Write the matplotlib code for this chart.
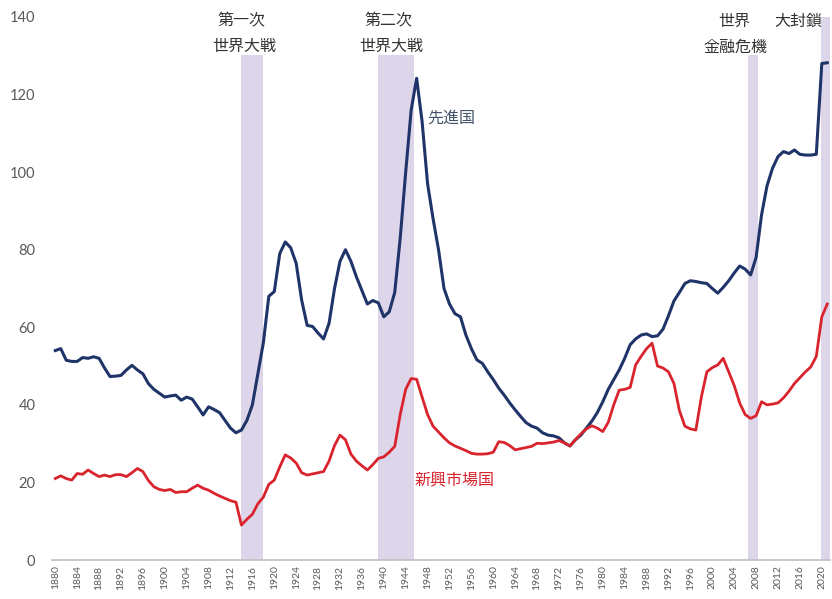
import matplotlib
matplotlib.use("Agg")
import matplotlib.pyplot as plt
import numpy as np

years = list(range(1880, 2022))

advanced = [
    54, 54.5, 51.5, 51.2, 51.2, 52.2, 52, 52.4, 52, 49.5,          # 1880-1889
    47.3, 47.4, 47.6, 49, 50.2, 49, 48, 45.5, 44, 43,               # 1890-1899
    42, 42.3, 42.5, 41.2, 42, 41.5, 39.5, 37.4, 39.5, 38.8,         # 1900-1909
    38, 36, 34, 32.8, 33.5, 36, 40, 48, 56, 68,                     # 1910-1919
    69.2, 79, 82, 80.5, 76.5, 67, 60.5, 60.2, 58.5, 57,             # 1920-1929
    61, 70, 77, 80, 77, 73, 69.5, 66, 66.9, 66.3,                   # 1930-1939
    62.7, 64, 69, 83, 100, 116, 124.2, 113, 97, 88,                 # 1940-1949
    80, 70, 66, 63.5, 62.7, 58, 54.5, 51.6, 50.7, 48.5,             # 1950-1959
    46.5, 44.3, 42.5, 40.5, 38.7, 37, 35.4, 34.5, 34, 32.8,         # 1960-1969
    32.2, 32, 31.5, 30.2, 29.4, 31, 32.2, 34, 35.8, 38,             # 1970-1979
    40.8, 44, 46.5, 49, 52, 55.5, 57, 58, 58.3, 57.6,               # 1980-1989
    57.8, 59.5, 63, 66.8, 69, 71.3, 72, 71.8, 71.5, 71.3,           # 1990-1999
    70, 68.8, 70.3, 72, 74, 75.8, 75, 73.5, 78, 89,                 # 2000-2009
    96.5, 101, 104, 105.3, 104.8, 105.7, 104.6, 104.4, 104.4, 104.6,  # 2010-2019
    128, 128.2,                                                     # 2020-2021
]

emerging = [
    21, 21.7, 21, 20.6, 22.3, 22.1, 23.2, 22.3, 21.5, 21.9,         # 1880-1889
    21.5, 22, 22, 21.5, 22.5, 23.6, 22.8, 20.5, 18.9, 18.2,         # 1890-1899
    17.9, 18.2, 17.4, 17.6, 17.6, 18.5, 19.3, 18.5, 18, 17.2,       # 1900-1909
    16.5, 15.9, 15.3, 14.9, 9, 10.5, 11.8, 14.5, 16.2, 19.5,        # 1910-1919
    20.6, 24, 27.1, 26.3, 25, 22.5, 21.9, 22.2, 22.5, 22.8,         # 1920-1929
    25.5, 29.5, 32.2, 31, 27.3, 25.5, 24.3, 23.2, 24.6, 26.2,       # 1930-1939
    26.6, 27.8, 29.3, 37.5, 44, 46.8, 46.6, 42, 37.5, 34.5,         # 1940-1949
    33, 31.5, 30.2, 29.4, 28.8, 28.2, 27.5, 27.3, 27.3, 27.4,       # 1950-1959
    27.8, 30.5, 30.3, 29.5, 28.4, 28.7, 29, 29.3, 30.1, 30,         # 1960-1969
    30.2, 30.4, 30.8, 30.2, 29.4, 31, 32.5, 33.8, 34.6, 34,         # 1970-1979
    33.1, 35.5, 40, 43.8, 44, 44.5, 50.3, 52.5, 54.5, 55.9,         # 1980-1989
    50, 49.5, 48.5, 45.5, 38.5, 34.5, 33.8, 33.5, 42, 48.5,         # 1990-1999
    49.6, 50.3, 52, 48.5, 45, 40.5, 37.5, 36.5, 37.2, 40.8,         # 2000-2009
    40, 40.2, 40.5, 41.8, 43.5, 45.5, 47, 48.5, 49.8, 52.5,         # 2010-2019
    62.7, 66,                                                       # 2020-2021
]

# shaded periods (start, end, label lines)
periods = [
    (1914, 1918, ["第一次", "世界大戦"]),
    (1939, 1945.6, ["第二次", "世界大戦"]),
    (2006.5, 2008.3, ["世界", "金融危機"]),
    (2019.8, 2021.5, ["大封鎖"]),
]

xticks = list(range(1880, 2021, 4))
yticks = list(range(0, 141, 20))

cjk = ["Noto Sans CJK JP", "DejaVu Sans"]

fig = plt.figure(figsize=(8.32, 5.99), dpi=100)
ax = fig.add_axes([52 / 832, 39 / 599, 778 / 832, 543 / 599])

band_color = "#ddd5ea"
band_tops = [0.93, 0.93, 0.93, 1.0]
for (s, e, _), top in zip(periods, band_tops):
    ax.axvspan(s, e, ymin=0, ymax=top, color=band_color, lw=0, zorder=0)

ax.plot(years, advanced, color="#1f3468", lw=2.2, zorder=3)
ax.plot(years, emerging, color="#d9232d", lw=2.0, zorder=3)

ax.set_xlim(1879.4, 2021.5)
ax.set_ylim(0, 140)

ax.set_xticks(xticks)
ax.set_xticklabels([str(x) for x in xticks], rotation=90, fontsize=7.5,
                   color="#595959", family="Lato")
ax.set_yticks(yticks)
ax.set_yticklabels([str(y) for y in yticks], fontsize=10.5, color="#595959",
                   family="Lato")
ax.tick_params(axis="x", length=0, pad=4)
ax.tick_params(axis="y", length=0, pad=12)

for sp in ["top", "right", "left"]:
    ax.spines[sp].set_visible(False)
ax.spines["bottom"].set_color("#bfbfbf")
ax.spines["bottom"].set_linewidth(1.2)

tcol = "#333333"
fs = 11.5
# annotation texts
ax.text(1914.1, 139, "第一次", ha="center", va="center", fontsize=fs, color=tcol, family=cjk)
ax.text(1914.5, 132.3, "世界大戦", ha="center", va="center", fontsize=fs, color=tcol, family=cjk)
ax.text(1940.9, 139, "第二次", ha="center", va="center", fontsize=fs, color=tcol, family=cjk)
ax.text(1941.4, 132.3, "世界大戦", ha="center", va="center", fontsize=fs, color=tcol, family=cjk)
ax.text(2004.0, 139, "世界", ha="center", va="center", fontsize=fs, color=tcol, family=cjk)
ax.text(2004.3, 132.3, "金融危機", ha="center", va="center", fontsize=fs, color=tcol, family=cjk)
ax.text(2015.8, 139, "大封鎖", ha="center", va="center", fontsize=fs, color=tcol, family=cjk)

ax.text(1952.4, 114, "先進国", ha="center", va="center", fontsize=fs, color="#44546a", family=cjk)
ax.text(1952.9, 20.4, "新興市場国", ha="center", va="center", fontsize=fs, color="#d9232d", family=cjk)

fig.savefig("out.png", dpi=100)
